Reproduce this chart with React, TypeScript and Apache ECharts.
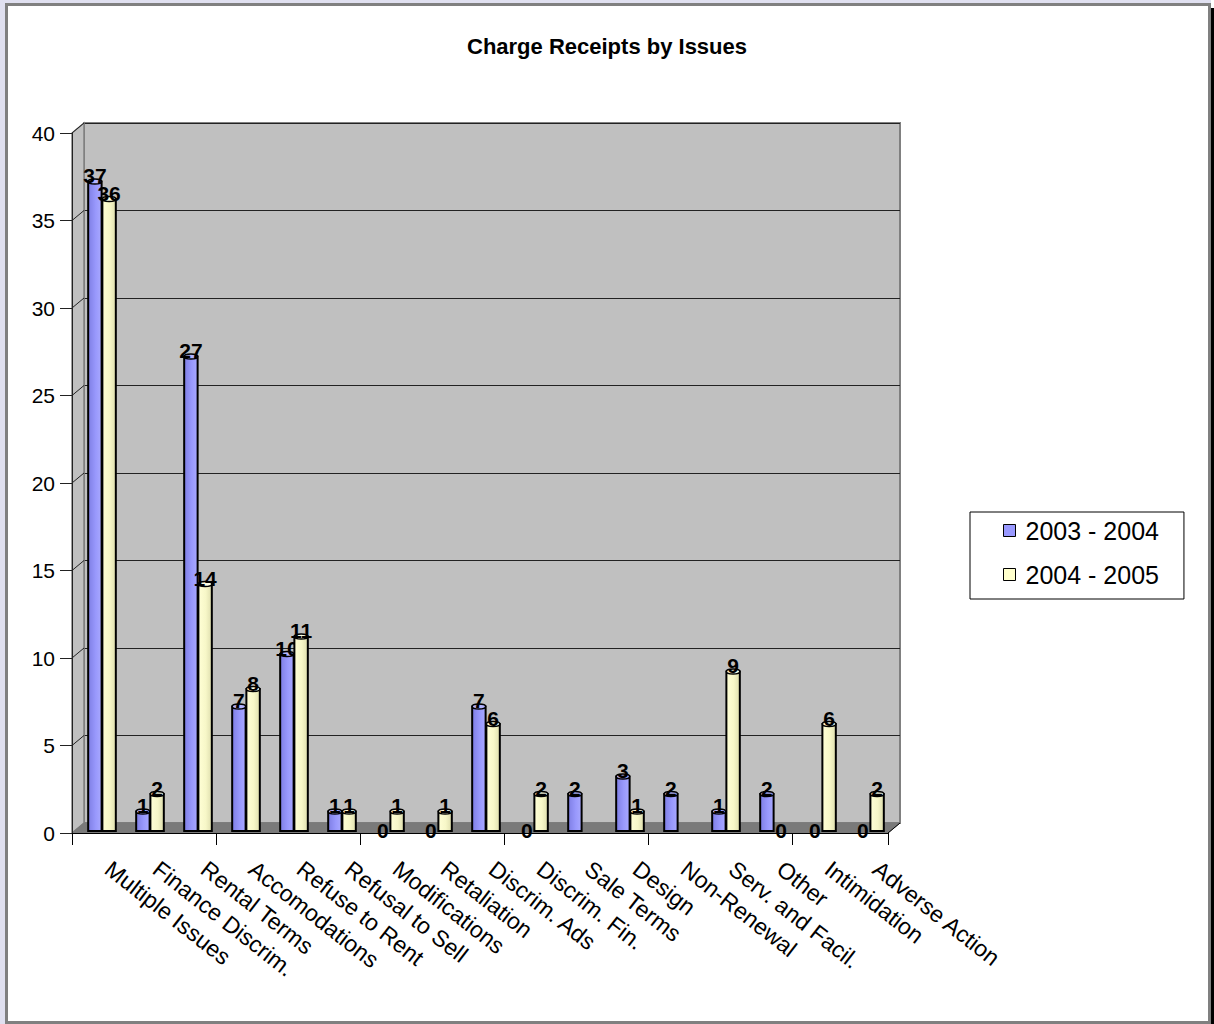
import React, { useEffect, useRef } from "react";
import * as echarts from "echarts";

const chartTitle = "Charge Receipts by Issues";
const categories = [
  "Multiple Issues",
  "Finance Discrim.",
  "Rental Terms",
  "Accomodations",
  "Refuse to Rent",
  "Refusal to Sell",
  "Modifications",
  "Retaliation",
  "Discrim. Ads",
  "Discrim. Fin.",
  "Sale Terms",
  "Design",
  "Non-Renewal",
  "Serv. and Facil.",
  "Other",
  "Intimidation",
  "Adverse Action",
];
const seriesNames = ["2003 - 2004", "2004 - 2005"];
const values2003: (number | null)[] = [37, 1, 27, 7, 10, 1, 0, 0, 7, 0, 2, 3, 2, 1, 2, 0, 0];
const values2004: (number | null)[] = [36, 2, 14, 8, 11, 1, 1, 1, 6, 2, null, 1, null, 9, 0, 6, 2];
const yMin = 0;
const yMax = 40;
const yStep = 5;

const FONT = '"Liberation Sans", Arial, Helvetica, sans-serif';
const DX = 12;
const DY = 10;

const BLUE = {
  base: "#9999FF",
  grad: [
    { offset: 0, color: "#7E7EE4" },
    { offset: 0.55, color: "#9898FC" },
    { offset: 1, color: "#A9A9FF" },
  ],
  cap: "#B4B4FF",
};
const YELLOW = {
  base: "#FFFFCC",
  grad: [
    { offset: 0, color: "#FFFFD6" },
    { offset: 0.55, color: "#F7F7C8" },
    { offset: 1, color: "#DEDEAE" },
  ],
  cap: "#FFFFE4",
};

function makeBarRender(side: number, pal: typeof BLUE) {
  return (params: any, api: any) => {
    const v = api.value(1);
    if (v === null || v === undefined || isNaN(v)) return null;
    const idx = api.value(0);
    const base = api.coord([idx, 0]);
    const top = api.coord([idx, v]);
    const catW = api.size([1, 0])[0];
    const bw = catW * 0.28;
    const cx = base[0] + side * catW * 0.148;
    const children: any[] = [];
    if (v > 0) {
      children.push({
        type: "rect",
        shape: { x: cx - bw / 2, y: top[1], width: bw, height: base[1] - top[1] + 2 },
        style: {
          fill: new echarts.graphic.LinearGradient(0, 0, 1, 0, pal.grad),
          stroke: "#000",
          lineWidth: 2,
        },
      });
      children.push({
        type: "ellipse",
        shape: { cx, cy: top[1], rx: bw / 2, ry: 2.5 },
        style: { fill: pal.cap, stroke: "#000", lineWidth: 1.5 },
      });
    }
    children.push({
      type: "text",
      style: {
        text: String(v),
        x: cx,
        y: v > 0 ? top[1] - 6 : top[1] + 1,
        textAlign: "center",
        textVerticalAlign: "middle",
        align: "center",
        verticalAlign: "middle",
        font: `bold 21px ${FONT}`,
        fill: "#000",
      },
    });
    return { type: "group", children };
  };
}

function wallsRender(params: any, api: any) {
  const cs = params.coordSys;
  const x = cs.x;
  const y = cs.y;
  const w = cs.width;
  const h = cs.height;
  const children: any[] = [
    {
      type: "polygon",
      shape: { points: [[x - DX, y + DY], [x, y], [x, y + h], [x - DX, y + h + DY]] },
      style: { fill: "#C0C0C0", stroke: "#808080", lineWidth: 1.5 },
    },
    {
      type: "polygon",
      shape: { points: [[x - DX, y + h + DY], [x, y + h], [x + w, y + h], [x + w - DX, y + h + DY]] },
      style: { fill: "#7A7A7A", stroke: "#7A7A7A", lineWidth: 1 },
    },
    {
      type: "line",
      shape: { x1: x + w - DX, y1: y + h + DY, x2: x + w, y2: y + h },
      style: { stroke: "#000", lineWidth: 1 },
    },
  ];
  for (let v = yMin + yStep; v <= yMax; v += yStep) {
    const py = api.coord([0, v])[1];
    children.push({
      type: "line",
      shape: { x1: x - DX, y1: py + DY, x2: x, y2: py },
      style: { stroke: "#222", lineWidth: 1 },
    });
  }
  return { type: "group", children };
}

export default function App() {
  const ref = useRef<HTMLDivElement>(null);
  useEffect(() => {
    const chart = echarts.init(ref.current!, null, { renderer: "svg" });
    const option: any = {
      animation: false,
      title: {
        text: chartTitle,
        left: "center",
        top: 30,
        textStyle: { fontSize: 22, fontWeight: "bold", fontFamily: FONT, color: "#000" },
      },
      legend: {
        orient: "vertical",
        left: 970,
        top: 512,
        padding: [6, 25, 12, 33],
        itemGap: 19,
        itemWidth: 12,
        itemHeight: 12,
        icon: "rect",
        backgroundColor: "#fff",
        borderColor: "#000",
        borderWidth: 1,
        borderRadius: 0,
        selectedMode: false,
        textStyle: { fontSize: 25, fontFamily: FONT, color: "#000", lineHeight: 24, padding: [0, 0, 0, 5] },
        data: [
          { name: seriesNames[0], itemStyle: { color: BLUE.base, borderColor: "#000", borderWidth: 1 } },
          { name: seriesNames[1], itemStyle: { color: YELLOW.base, borderColor: "#000", borderWidth: 1 } },
        ],
      },
      grid: [
        { left: 84, top: 123, width: 816, height: 700, show: true, backgroundColor: "#C0C0C0", borderColor: "#808080", borderWidth: 2 },
        { left: 72, top: 133, width: 816, height: 700 },
        { left: 78, top: 129, width: 816, height: 700 },
      ],
      xAxis: [
        {
          gridIndex: 0,
          type: "category",
          data: categories,
          axisLine: { show: false },
          axisTick: { show: false },
          splitLine: { show: false },
          axisLabel: { interval: 0, rotate: -38, margin: 43, fontSize: 23, fontFamily: FONT, color: "#000" },
        },
        {
          gridIndex: 1,
          type: "category",
          data: categories,
          z: 5,
          axisLine: { show: true, lineStyle: { color: "#000", width: 1 } },
          axisTick: { show: true, length: 12, lineStyle: { color: "#000" } },
          axisLabel: { show: false },
          splitLine: { show: false },
        },
        { gridIndex: 2, type: "category", data: categories, show: false },
      ],
      yAxis: [
        {
          gridIndex: 0,
          type: "value",
          min: yMin,
          max: yMax,
          interval: yStep,
          axisLine: { show: false },
          axisTick: { show: false },
          axisLabel: { show: false },
          splitLine: { show: true, lineStyle: { color: "#222", width: 1 } },
        },
        {
          gridIndex: 1,
          type: "value",
          min: yMin,
          max: yMax,
          interval: yStep,
          z: 5,
          axisLine: { show: true, lineStyle: { color: "#222", width: 1 } },
          axisTick: { show: true, length: 12, lineStyle: { color: "#222" } },
          axisLabel: { margin: 17, fontSize: 21, fontFamily: FONT, color: "#000" },
          splitLine: { show: false },
        },
        { gridIndex: 2, type: "value", min: yMin, max: yMax, interval: yStep, show: false },
      ],
      series: [
        {
          type: "custom",
          name: "walls",
          xAxisIndex: 0,
          yAxisIndex: 0,
          z: 1,
          silent: true,
          clip: false,
          data: [[0, 0]],
          renderItem: wallsRender,
        },
        {
          type: "custom",
          name: seriesNames[0],
          xAxisIndex: 2,
          yAxisIndex: 2,
          z: 10,
          clip: false,
          itemStyle: { color: BLUE.base },
          encode: { x: 0, y: 1 },
          data: values2003.map((v, i) => [i, v === null ? "-" : v]),
          renderItem: makeBarRender(-1, BLUE),
        },
        {
          type: "custom",
          name: seriesNames[1],
          xAxisIndex: 2,
          yAxisIndex: 2,
          z: 10,
          clip: false,
          itemStyle: { color: YELLOW.base },
          encode: { x: 0, y: 1 },
          data: values2004.map((v, i) => [i, v === null ? "-" : v]),
          renderItem: makeBarRender(1, YELLOW),
        },
      ],
    };
    chart.setOption(option);
    return () => chart.dispose();
  }, []);

  return (
    <div style={{ position: "fixed", left: 0, top: 0, width: 1214, height: 1024, background: "#E0E0F0", overflow: "hidden" }}>
      <div style={{ position: "absolute", left: 5, top: 3, width: 1206, height: 1021, border: "3px solid #808080", boxSizing: "border-box", background: "#fff" }} />
      <div style={{ position: "absolute", left: 1211, top: 0, width: 3, height: 8, background: "#fff" }} />
      <div style={{ position: "absolute", left: 1211, top: 8, width: 3, height: 1016, background: "#000" }} />
      <div ref={ref} style={{ position: "absolute", left: 0, top: 0, width: 1214, height: 1024 }} />
    </div>
  );
}
